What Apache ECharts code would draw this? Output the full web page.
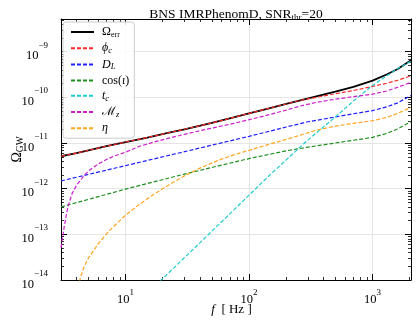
<!DOCTYPE html>
<html>
<head>
<meta charset="utf-8">
<script src="https://cdn.jsdelivr.net/npm/echarts@6/dist/echarts.min.js"></script>
<style>
html, body { margin: 0; padding: 0; background: #fff; }
#chart { width: 416px; height: 326px; }
</style>
</head>
<body>
<div id="chart"></div>
<script>
// values: [f (Hz), Omega_GW]
const omegaErr = [[3, 5.13e-12], [4, 6.03e-12], [5, 6.92e-12], [7, 8.51e-12], [10, 1.05e-11], [15, 1.32e-11], [22, 1.66e-11], [30, 2.0e-11], [50, 2.75e-11], [75, 3.63e-11], [100, 4.47e-11], [140, 5.62e-11], [200, 7.16e-11], [260, 8.61e-11], [350, 1.05e-10], [500, 1.33e-10], [700, 1.70e-10], [1000, 2.32e-10], [1300, 3.16e-10], [1600, 4.17e-10], [2048, 6.46e-10]];
const phiC = [[3, 5.13e-12], [4, 6.03e-12], [5, 6.92e-12], [7, 8.51e-12], [10, 1.05e-11], [15, 1.32e-11], [22, 1.66e-11], [30, 2.0e-11], [50, 2.75e-11], [75, 3.63e-11], [100, 4.47e-11], [140, 5.62e-11], [200, 7.16e-11], [260, 8.61e-11], [350, 1.0e-10], [500, 1.20e-10], [700, 1.41e-10], [1000, 1.74e-10], [1300, 2.04e-10], [1600, 2.37e-10], [2048, 2.95e-10]];
const dL = [[3, 1.48e-12], [10, 3.20e-12], [30, 6.46e-12], [100, 1.40e-11], [200, 2.24e-11], [300, 2.92e-11], [500, 3.72e-11], [700, 4.37e-11], [1000, 5.13e-11], [1300, 6.17e-11], [1600, 7.59e-11], [2048, 1.10e-10]];
const cosIota = [[3, 3.98e-13], [10, 9.77e-13], [30, 2.09e-12], [100, 4.57e-12], [200, 6.76e-12], [300, 8.13e-12], [500, 1.0e-11], [700, 1.15e-11], [1000, 1.33e-11], [1300, 1.62e-11], [1600, 2.04e-11], [2048, 2.95e-11]];
const tC = [[15, 5.01e-15], [20, 1.07e-14], [30, 3.09e-14], [50, 1.17e-13], [75, 3.39e-13], [100, 7.24e-13], [150, 2.09e-12], [200, 4.27e-12], [300, 1.17e-11], [500, 3.72e-11], [700, 8.32e-11], [1000, 1.82e-10], [1300, 2.95e-10], [1600, 4.27e-10], [2048, 6.17e-10]];
const mZ = [[3, 5.13e-14], [3.1, 9.12e-14], [3.2, 1.58e-13], [3.35, 3.16e-13], [3.5, 5.01e-13], [3.7, 7.94e-13], [4, 1.17e-12], [4.5, 1.78e-12], [5, 2.45e-12], [6, 3.47e-12], [7, 4.37e-12], [8, 5.13e-12], [10, 6.31e-12], [13, 8.51e-12], [17, 1.05e-11], [22, 1.26e-11], [30, 1.55e-11], [40, 1.86e-11], [55, 2.24e-11], [75, 2.69e-11], [100, 3.24e-11], [140, 4.07e-11], [200, 5.25e-11], [260, 6.46e-11], [350, 7.76e-11], [500, 9.12e-11], [700, 1.035e-10], [1000, 1.175e-10], [1300, 1.38e-10], [1600, 1.66e-10], [2048, 2.14e-10]];
const eta = [[4.1, 5.01e-15], [4.3, 1.12e-14], [4.6, 1.91e-14], [5, 3.02e-14], [6, 6.17e-14], [7, 1.02e-13], [8, 1.48e-13], [10, 2.63e-13], [13, 4.57e-13], [17, 7.59e-13], [22, 1.17e-12], [30, 1.91e-12], [40, 2.82e-12], [55, 4.07e-12], [75, 5.50e-12], [100, 6.92e-12], [140, 9.12e-12], [200, 1.20e-11], [260, 1.48e-11], [350, 1.91e-11], [500, 2.34e-11], [700, 2.69e-11], [1000, 3.09e-11], [1300, 3.63e-11], [1600, 4.47e-11], [2048, 6.03e-11]];

const seriesNames = ['Omega_err', 'phi_c', 'D_L', 'cos_iota', 't_c', 'M_z', 'eta'];
const seriesData = [omegaErr, phiC, dL, cosIota, tC, mZ, eta];
const legendLabels = ['{r|Ω}{s|err}', '{i|ϕ}{si|c}', '{i|D}{si|L}', '{r|cos(}{i|ι}{r|)}', '{i|t}{si|c}', '{r|ℳ}{si|z}', '{i|η}'];
const colors = ['#000000', '#ff2a2a', '#1f1fff', '#1f8f1f', '#1fcccc', '#cc1fcc', '#ffa51f'];

const xRange = [3, 2048];
const yRange = [1e-14, 5.2e-9];

const SERIF = 'Liberation Serif';

const legendRich = {
  r: { fontFamily: SERIF, fontSize: 12, lineHeight: 14, color: '#000' },
  i: { fontFamily: SERIF, fontSize: 12, lineHeight: 14, fontStyle: 'italic', color: '#000' },
  s: { fontFamily: SERIF, fontSize: 8, lineHeight: 8, verticalAlign: 'bottom', color: '#000' },
  si: { fontFamily: SERIF, fontSize: 8.5, lineHeight: 8, verticalAlign: 'bottom', fontStyle: 'italic', color: '#000' }
};

// 10^n tick labels, other ticks (the axis ends) stay blank
function powLabel(v) {
  const e = Math.round(Math.log10(v));
  if (Math.abs(v / Math.pow(10, e) - 1) > 1e-6) return '';
  return '{b|10}{e|' + (e < 0 ? '−' : '') + Math.abs(e) + '}{h| }';
}

const powRich = (h) => ({
  b: { fontFamily: SERIF, fontSize: 12.5, lineHeight: 12, verticalAlign: 'bottom', color: '#000' },
  e: { fontFamily: SERIF, fontSize: 9, lineHeight: 9, verticalAlign: 'top', color: '#000' },
  h: { fontSize: 1, lineHeight: h, width: 0 }
});

const myChart = echarts.init(document.getElementById('chart'), null, { width: 416, height: 326 });

const frameAxis = {
  type: 'log',
  logBase: 10,
  axisLine: { show: true, lineStyle: { color: '#000', width: 1 } },
  axisTick: { show: true, inside: true, length: 6, lineStyle: { color: '#000', width: 1 } },
  minorTick: { show: true, splitNumber: 9, length: 3, lineStyle: { color: '#000', width: 0.8 } },
  splitLine: { show: false },
  minorSplitLine: { show: false }
};

const option = {
  animation: false,
  backgroundColor: '#fff',
  title: {
    text: '{r|BNS IMRPhenomD, SNR}{s|thr}{r|=20}',
    left: 231,
    top: 1,
    textAlign: 'center',
    textStyle: {
      fontWeight: 'normal',
      rich: {
        r: { fontFamily: SERIF, fontSize: 13.5, fontWeight: 'normal', lineHeight: 16, color: '#000' },
        s: { fontFamily: SERIF, fontSize: 9, fontWeight: 'normal', lineHeight: 9, verticalAlign: 'bottom', color: '#000' }
      }
    }
  },
  grid: { left: 61, right: 5, top: 19, bottom: 46, containLabel: false, outerBoundsMode: 'none' },
  legend: {
    orient: 'vertical',
    left: 63,
    top: 22,
    padding: [4, 5, 4, 7],
    itemWidth: 23,
    itemHeight: 14,
    itemGap: 3.2,
    backgroundColor: 'rgba(255,255,255,0.85)',
    borderColor: '#cccccc',
    borderWidth: 1,
    borderRadius: 3,
    itemStyle: { opacity: 0, color: 'transparent', borderWidth: 0 },
    data: seriesNames,
    formatter: name => legendLabels[seriesNames.indexOf(name)],
    textStyle: { rich: legendRich, padding: [0, 0, 0, 3] }
  },
  xAxis: [
    Object.assign({}, frameAxis, {
      min: xRange[0], max: xRange[1],
      name: '{i|f}{r|  [ Hz ]}',
      nameLocation: 'middle',
      nameGap: 23,
      nameMoveOverlap: false,
      nameTextStyle: {
        rich: {
          i: { fontFamily: SERIF, fontSize: 13, fontStyle: 'italic', color: '#000' },
          r: { fontFamily: SERIF, fontSize: 13, color: '#000', padding: [0, 9, 0, 0] }
        }
      },
      splitLine: { show: true, lineStyle: { color: '#e5e5e5', width: 1 } },
      axisLabel: {
        margin: 8,
        verticalAlign: 'top',
        formatter: powLabel,
        rich: powRich(18)
      }
    }),
    Object.assign({}, frameAxis, {
      position: 'top',
      min: xRange[0], max: xRange[1],
      axisLabel: { show: false }
    })
  ],
  yAxis: [
    Object.assign({}, frameAxis, {
      min: yRange[0], max: yRange[1],
      name: '{o|Ω}{s|GW}',
      nameLocation: 'middle',
      nameRotate: 90,
      nameGap: 36,
      nameMoveOverlap: false,
      nameTextStyle: {
        rich: {
          o: { fontFamily: SERIF, fontSize: 14, lineHeight: 16, color: '#000' },
          s: { fontFamily: SERIF, fontSize: 9.5, lineHeight: 9, verticalAlign: 'bottom', color: '#000' }
        }
      },
      splitLine: { show: true, lineStyle: { color: '#e5e5e5', width: 1 } },
      axisLabel: {
        margin: 13,
        align: 'right',
        verticalAlign: 'middle',
        formatter: powLabel,
        rich: powRich(22)
      }
    }),
    Object.assign({}, frameAxis, {
      position: 'right',
      min: yRange[0], max: yRange[1],
      axisLabel: { show: false }
    })
  ],
  series: seriesNames.map((name, k) => ({
    name: name,
    type: 'line',
    xAxisIndex: 0,
    yAxisIndex: 0,
    data: seriesData[k],
    showSymbol: false,
    symbol: 'none',
    clip: true,
    color: colors[k],
    lineStyle: {
      color: colors[k],
      width: k === 0 ? 1.8 : 1.2,
      type: k === 0 ? 'solid' : [4, 2]
    },
    z: 2 + k
  }))
};

myChart.setOption(option);
</script>
</body>
</html>
